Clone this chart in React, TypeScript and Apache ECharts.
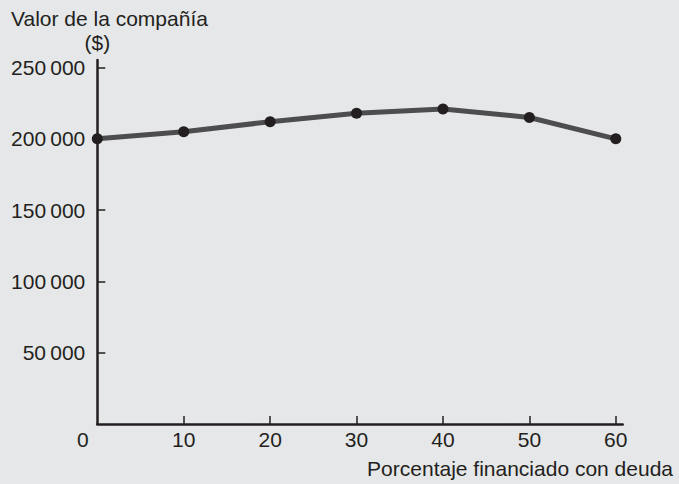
import React, { useEffect, useRef } from "react";
import * as echarts from "echarts";

const xValues = [0, 10, 20, 30, 40, 50, 60];
const companyValues = [200000, 205000, 212000, 218000, 221000, 215000, 200000];
const xTickValues = [10, 20, 30, 40, 50, 60];
const xLabelValues = [0, 10, 20, 30, 40, 50, 60];
const yTickValues = [50000, 100000, 150000, 200000, 250000];
const titleText = "Valor de la compañía";
const yUnitText = "($)";
const xNameText = "Porcentaje financiado con deuda";

const INK = "#231f20";
const FONT = "'Liberation Sans', Arial, Helvetica, sans-serif";
const FS = 21;

export default function App() {
  const ref = useRef<HTMLDivElement>(null);
  useEffect(() => {
    document.body.style.margin = "0";
    const chart = echarts.init(ref.current!, null, { renderer: "svg" });
    const option: any = {
      animation: false,
      backgroundColor: "#e6e7e8",
      textStyle: { fontFamily: FONT },
      grid: { left: 97.3, right: 56.3, top: 60, bottom: 60, containLabel: false },
      graphic: [
        {
          type: "text",
          x: 11,
          y: 18,
          style: { text: titleText, font: `${FS}px ${FONT}`, fill: INK, verticalAlign: "middle" },
        },
        {
          type: "text",
          x: 97.3,
          y: 42,
          style: { text: yUnitText, font: `${FS}px ${FONT}`, fill: INK, align: "center", verticalAlign: "middle" },
        },
        {
          type: "text",
          x: 673,
          y: 468,
          style: { text: xNameText, font: `${FS}px ${FONT}`, fill: INK, align: "right", verticalAlign: "middle" },
        },
      ],
      xAxis: {
        type: "value",
        min: 0,
        max: 60.8,
        splitLine: { show: false },
        axisLine: { show: true, lineStyle: { color: INK, width: 2.5 } },
        axisTick: {
          show: true,
          inside: true,
          length: 8,
          customValues: xTickValues,
          lineStyle: { color: INK, width: 1.5 },
        },
        axisLabel: {
          customValues: xLabelValues,
          color: INK,
          fontSize: FS,
          fontFamily: FONT,
          margin: 5,
          formatter: (v: number) => (v === 0 ? "{z|0}" : String(v)),
          rich: { z: { fontSize: FS, fontFamily: FONT, color: INK, padding: [0, 29, 0, 0] } },
        },
      },
      yAxis: {
        type: "value",
        min: 0,
        max: 255300,
        splitLine: { show: false },
        axisLine: { show: true, lineStyle: { color: INK, width: 2.5 } },
        axisTick: {
          show: true,
          inside: true,
          length: 8,
          customValues: yTickValues,
          lineStyle: { color: INK, width: 1.5 },
        },
        axisLabel: {
          customValues: yTickValues,
          color: INK,
          fontSize: FS,
          fontFamily: FONT,
          margin: 12,
          formatter: (v: number) => `${Math.round(v / 1000)}\u2009000`,
        },
      },
      series: [
        {
          type: "line",
          data: xValues.map((x, i) => [x, companyValues[i]]),
          symbol: "circle",
          symbolSize: 11,
          lineStyle: { color: "#4d4d4f", width: 5 },
          itemStyle: { color: INK },
          z: 3,
        },
      ],
    };
    chart.setOption(option);
    return () => chart.dispose();
  }, []);
  return (
    <div
      ref={ref}
      style={{ position: "fixed", left: 0, top: 0, width: 679, height: 484 }}
    />
  );
}
